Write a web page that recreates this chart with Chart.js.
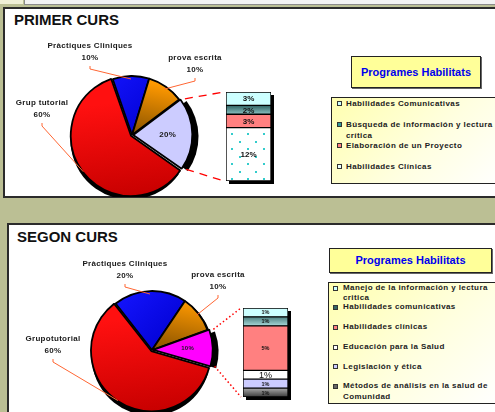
<!DOCTYPE html>
<html>
<head>
<meta charset="utf-8">
<script src="https://cdn.jsdelivr.net/npm/chart.js@4.4.1/dist/chart.umd.min.js"></script>
<style>
  body { margin:0; width:495px; height:412px; overflow:hidden; position:relative; background:#BBBF94; font-family:"Liberation Sans", Arial, sans-serif; }
  .abs { position:absolute; }
  .panel { position:absolute; background:#fff; border:2px solid #2b2b2b; box-sizing:border-box; }
  .titol { position:absolute; font-weight:bold; font-size:15px; line-height:15px; color:#111; white-space:nowrap; }
  .progTitle { position:absolute; background:#FFFF99; border:1px solid #222; box-shadow:1px 1px 0 #666; box-sizing:border-box; color:#0000EE; font-weight:bold; font-size:11px; text-align:center; white-space:nowrap; }
  .legend { position:absolute; border:1px solid #222; box-sizing:border-box; background:linear-gradient(135deg,#FFFFB0 0%, #FFFFE0 55%, #FFFFFF 100%); }
  .item { position:absolute; left:14px; font-weight:bold; font-size:8px; letter-spacing:0.4px; color:#222; white-space:pre; }
  .mark { position:absolute; width:3px; height:3px; border:1px solid #333; }
  canvas { position:absolute; }
</style>
</head>
<body>
<div class="abs" style="left:0;top:0;width:23px;height:4px;background:#EFEFD6"></div>
<div class="abs" style="left:24px;top:-2px;width:480px;height:5px;border:1px solid #8a8a8a;background:#F2F2F2"></div>

<div class="panel" style="left:3px;top:7px;width:500px;height:191px"></div>
<div class="titol" style="left:14px;top:12px">PRIMER CURS</div>
<div class="progTitle" style="left:351px;top:56px;width:130px;height:32px;line-height:30px">Programes Habilitats</div>
<div class="legend" id="legend1" style="left:331px;top:97px;width:175px;height:87px"></div>
<canvas id="pie1" width="230" height="197" style="left:0;top:0"></canvas>
<canvas id="bar1" width="50" height="94" style="left:226px;top:92px"></canvas>

<div class="panel" style="left:7px;top:223px;width:500px;height:200px"></div>
<div class="titol" style="left:17px;top:229px">SEGON CURS</div>
<div class="progTitle" style="left:329px;top:248px;width:163px;height:25px;line-height:23px">Programes Habilitats</div>
<div class="legend" id="legend2" style="left:328px;top:282px;width:175px;height:122px"></div>
<canvas id="pie2" width="245" height="188" style="left:0;top:224px"></canvas>
<canvas id="bar2" width="50" height="94" style="left:243px;top:308px"></canvas>

<script>
// PRIMER CURS
var curs1Parts = ['Pràctiques Cliniques', 'prova escrita', 'Altres', 'Grup tutorial'];
var curs1Values = [10, 10, 20, 60];
var curs1Programs = ['Habilidades Comunicativas', 'Búsqueda de información y lectura\ncrítica', 'Elaboración de un Proyecto', 'Habilidades Clínicas'];
var curs1ProgramValues = [3, 2, 3, 12];

// SEGON CURS
var curs2Parts = ['Pràctiques Cliniques', 'prova escrita', 'Altres', 'Grupotutorial'];
var curs2Values = [20, 10, 10, 60];
var curs2Programs = ['Manejo de la información y lectura\ncritica', 'Habilidades comunicativas', 'Habilidades clínicas', 'Educación para la Salud', 'Legislación y ética', 'Métodos de análisis en la salud de\nComunidad'];
var curs2ProgramValues = [1, 1, 5, 1, 1, 1];

var pieRadius = 59;
var labelFont = 'bold 8px "Liberation Sans", Arial, sans-serif';

var redFill = {stops: ['#FF1010', '#C80000'], from: [0, -0.6], to: [0.2, 1]};
var orangeFill = {stops: ['#FF9900', '#7A4A00'], from: [0, -0.95], to: [-0.2, 0.05]};
var blueFill = {stops: ['#1515FF', '#0000D0'], from: [-0.6, -1], to: [0.4, 0]};

function dotPattern(ctx) {
    var c = document.createElement('canvas');
    c.width = 16; c.height = 15;
    var x = c.getContext('2d');
    x.fillStyle = '#fff';
    x.fillRect(0, 0, 16, 15);
    x.fillStyle = '#33CCCC';
    x.fillRect(5, 11, 2, 2);
    x.fillRect(13, 4, 2, 2);
    return ctx.createPattern(c, 'repeat');
}

function pieFill(c, spec) {
    if (typeof spec === 'string') return spec;
    var a = c.chart.chartArea;
    if (!a || !isFinite(a.left) || !isFinite(a.top)) return spec.stops[0];
    var cx = (a.left + a.right) / 2, cy = (a.top + a.bottom) / 2, r = pieRadius;
    var g = c.chart.ctx.createLinearGradient(cx + spec.from[0] * r, cy + spec.from[1] * r, cx + spec.to[0] * r, cy + spec.to[1] * r);
    g.addColorStop(0, spec.stops[0]);
    g.addColorStop(1, spec.stops[1]);
    return g;
}

function barFill(c, spec) {
    if (typeof spec === 'string') return spec;
    if (spec === null) return dotPattern(c.chart.ctx);
    var chart = c.chart, y = chart.scales.y;
    if (!y || c.datasetIndex === undefined) return spec[0];
    var ds = chart.data.datasets, start = 0;
    for (var i = 0; i < c.datasetIndex; i++) start += ds[i].data[0];
    var top = y.getPixelForValue(start + ds[c.datasetIndex].data[0]);
    var bottom = y.getPixelForValue(start);
    if (!isFinite(top) || !isFinite(bottom)) return spec[0];
    var g = chart.ctx.createLinearGradient(0, top, 0, bottom);
    g.addColorStop(0, spec[0]);
    g.addColorStop(1, spec[1]);
    return g;
}

function barBounds(chart) {
    var b = {left: Infinity, right: -Infinity, top: Infinity, bottom: -Infinity};
    chart.data.datasets.forEach(function (d, i) {
        chart.getDatasetMeta(i).data.forEach(function (el) {
            var p = el.getProps(['x', 'y', 'base', 'width']);
            b.left = Math.min(b.left, p.x - p.width / 2);
            b.right = Math.max(b.right, p.x + p.width / 2);
            b.top = Math.min(b.top, p.y, p.base);
            b.bottom = Math.max(b.bottom, p.y, p.base);
        });
    });
    return b;
}

function barPlugin() {
    return {
        id: 'barDeco',
        beforeDatasetsDraw: function (chart) {
            var b = barBounds(chart), ctx = chart.ctx;
            ctx.save();
            ctx.fillStyle = '#000';
            ctx.fillRect(b.left + 3, b.top + 3, b.right - b.left, b.bottom - b.top);
            ctx.restore();
        },
        afterDatasetsDraw: function (chart) {
            var ctx = chart.ctx;
            ctx.save();
            ctx.fillStyle = '#111';
            ctx.textAlign = 'center';
            ctx.textBaseline = 'middle';
            chart.data.datasets.forEach(function (d, i) {
                ctx.font = d.labelFont;
                chart.getDatasetMeta(i).data.forEach(function (el) {
                    var p = el.getProps(['x', 'y', 'base']);
                    ctx.fillText(d.data[0] + '%', p.x, (p.y + p.base) / 2 + 0.5);
                });
            });
            ctx.restore();
        }
    };
}

function makeBar(id, programs, values, fills, fonts) {
    var total = values.reduce(function (s, v) { return s + v; }, 0);
    var datasets = programs.map(function (name, i) {
        return {
            label: name,
            data: [values[i]],
            labelFont: fonts[i],
            backgroundColor: function (c) { return barFill(c, fills[i]); },
            borderColor: '#000',
            borderWidth: 1,
            borderSkipped: false,
            barPercentage: 1,
            categoryPercentage: 1
        };
    }).reverse();
    return new Chart(document.getElementById(id), {
        type: 'bar',
        data: {labels: [''], datasets: datasets},
        options: {
            responsive: false,
            animation: false,
            events: [],
            layout: {padding: {left: 0, top: 0, right: 5, bottom: 5}},
            scales: {
                x: {display: false, stacked: true},
                y: {display: false, stacked: true, min: 0, max: total}
            },
            plugins: {legend: {display: false}, tooltip: {enabled: false}}
        },
        plugins: [barPlugin()]
    });
}

function pieLabelPlugin(cfg) {
    return {
        id: 'pieLabels',
        beforeDatasetsDraw: function (chart) {
            // dark drop shadow under each slice, as in the Excel 3D-look pie
            var ctx = chart.ctx;
            ctx.save();
            ctx.fillStyle = '#000';
            chart.getDatasetMeta(0).data.forEach(function (arc) {
                var p = arc.getProps(['x', 'y', 'startAngle', 'endAngle', 'outerRadius']);
                var mid = (p.startAngle + p.endAngle) / 2;
                var off = arc.options.offset || 0;
                var cx = p.x + Math.cos(mid) * off + 2, cy = p.y + Math.sin(mid) * off + 2;
                ctx.beginPath();
                ctx.moveTo(cx, cy);
                ctx.arc(cx, cy, p.outerRadius + 0.5, p.startAngle, p.endAngle);
                ctx.closePath();
                ctx.fill();
            });
            ctx.restore();
        },
        afterDatasetsDraw: function (chart) {
            var ctx = chart.ctx;
            var values = chart.data.datasets[0].data;
            var arcs = chart.getDatasetMeta(0).data;
            ctx.save();

            // lines from the split slice to the bar
            var bar = cfg.bar;
            var b = barBounds(bar);
            var sx = bar.canvas.offsetLeft - chart.canvas.offsetLeft;
            var sy = bar.canvas.offsetTop - chart.canvas.offsetTop;
            var o = arcs[cfg.otherIndex];
            var op = o.getProps(['x', 'y', 'startAngle', 'endAngle', 'outerRadius']);
            var omid = (op.startAngle + op.endAngle) / 2;
            var oo = o.options.offset || 0;
            var ocx = op.x + Math.cos(omid) * oo, ocy = op.y + Math.sin(omid) * oo;
            ctx.strokeStyle = '#FF0000';
            ctx.lineWidth = cfg.dashWidth;
            ctx.setLineDash(cfg.dash);
            ctx.beginPath();
            ctx.moveTo(ocx + Math.cos(op.startAngle) * (op.outerRadius + 1), ocy + Math.sin(op.startAngle) * (op.outerRadius + 1));
            ctx.lineTo(b.left + sx - 2, b.top + sy);
            ctx.moveTo(ocx + Math.cos(op.endAngle) * (op.outerRadius + 1), ocy + Math.sin(op.endAngle) * (op.outerRadius + 1));
            ctx.lineTo(b.left + sx - 2, b.bottom + sy);
            ctx.stroke();
            ctx.setLineDash([]);

            ctx.textAlign = 'center';
            ctx.textBaseline = 'middle';
            ctx.fillStyle = '#1a1a1a';
            ctx.letterSpacing = '0.3px';
            arcs.forEach(function (arc, i) {
                var p = arc.getProps(['x', 'y', 'startAngle', 'endAngle', 'outerRadius']);
                var mid = (p.startAngle + p.endAngle) / 2;
                var off = arc.options.offset || 0;
                var cx = p.x + Math.cos(mid) * off, cy = p.y + Math.sin(mid) * off;
                var pct = values[i] + '%';
                if (i === cfg.otherIndex) {
                    ctx.font = cfg.innerFont;
                    ctx.fillText(pct, cx + Math.cos(mid) * p.outerRadius * 0.52, cy + Math.sin(mid) * p.outerRadius * 0.52);
                    return;
                }
                var lp = cfg.labelAt[i];
                var lx = p.x + lp[0], ly = p.y + lp[1];
                ctx.strokeStyle = '#FF6633';
                ctx.lineWidth = 1;
                ctx.beginPath();
                ctx.moveTo(lx, ly + 20);
                ctx.lineTo(lx, ly + 23);
                ctx.lineTo(cx + Math.cos(mid) * (p.outerRadius - 3), cy + Math.sin(mid) * (p.outerRadius - 3));
                ctx.stroke();
                ctx.font = labelFont;
                ctx.fillText(chart.data.labels[i], lx, ly);
                ctx.fillText(pct, lx, ly + 11.5);
            });
            ctx.restore();
        }
    };
}

function makePie(id, parts, values, cfg) {
    var canvas = document.getElementById(id);
    var W = canvas.width, H = canvas.height;
    var pad = {left: 0, right: 0, top: 0, bottom: 0};
    if (2 * cfg.center[0] > W) pad.left = 2 * cfg.center[0] - W; else pad.right = W - 2 * cfg.center[0];
    if (2 * cfg.center[1] > H) pad.top = 2 * cfg.center[1] - H; else pad.bottom = H - 2 * cfg.center[1];
    return new Chart(canvas, {
        type: 'pie',
        data: {
            labels: parts,
            datasets: [{
                data: values,
                backgroundColor: function (c) { return pieFill(c, cfg.fills[c.dataIndex]); },
                borderColor: '#000',
                borderWidth: 1.8,
                offset: cfg.offsets,
                radius: pieRadius,
                clip: false
            }]
        },
        options: {
            responsive: false,
            animation: false,
            events: [],
            rotation: cfg.rotation,
            layout: {padding: pad},
            plugins: {legend: {display: false}, tooltip: {enabled: false}}
        },
        plugins: [pieLabelPlugin(cfg)]
    });
}

function buildLegend(id, names, marks, first, step, lineH, markLeft) {
    var box = document.getElementById(id);
    names.forEach(function (n, i) {
        var cy = first + i * step;
        var t = document.createElement('div');
        t.className = 'item';
        t.style.top = (cy - lineH / 2) + 'px';
        t.style.lineHeight = lineH + 'px';
        t.textContent = n;
        box.appendChild(t);
        var m = document.createElement('div');
        m.className = 'mark';
        m.style.top = (cy - 2.5) + 'px';
        m.style.left = markLeft + 'px';
        m.style.background = marks[i];
        box.appendChild(m);
    });
}

var small = 'bold 5.5px "Liberation Sans", Arial, sans-serif';

buildLegend('legend1', curs1Programs, ['#CCFFFF', '#339999', '#FF8080', '#E8FFFF'], 5, 21, 11, 5);
buildLegend('legend2', curs2Programs, ['#CCFFFF', '#336666', '#FF8080', '#FFFFFF', '#CCCCFF', '#666666'], 5, 19.7, 10.5, 4);

var bar1 = makeBar('bar1', curs1Programs, curs1ProgramValues,
    ['#CCFFFF', ['#2E6161', '#8CC4C4'], '#FF8080', null],
    [labelFont, labelFont, labelFont, labelFont]);
var bar2 = makeBar('bar2', curs2Programs, curs2ProgramValues,
    ['#CCFFFF', ['#4C8080', '#A8D8D8'], '#FF8080', '#FFFFFF', '#CCCCFF', ['#A8A8A8', '#3A3A3A']],
    [small, small, small, '9px "Liberation Sans", Arial, sans-serif', small, small]);

makePie('pie1', curs1Parts, curs1Values, {
    center: [132, 135], rotation: -19, offsets: [0, 0, 5, 5],
    fills: [blueFill, orangeFill, '#CCCCFF', redFill],
    labelAt: [[-42, -89], [63, -77], null, [-90, -32]],
    otherIndex: 2, innerFont: labelFont, bar: bar1, dash: [8, 6], dashWidth: 1.3
});
makePie('pie2', curs2Parts, curs2Values, {
    center: [152, 126], rotation: -38, offsets: [0, 0, 5, 5],
    fills: [blueFill, orangeFill, '#FF00FF', redFill],
    labelAt: [[-27, -86], [66, -75], null, [-99, -11]],
    otherIndex: 2, innerFont: 'bold 6px "Liberation Sans", Arial, sans-serif', bar: bar2, dash: [1.5, 2.5], dashWidth: 1.5
});
</script>
</body>
</html>
